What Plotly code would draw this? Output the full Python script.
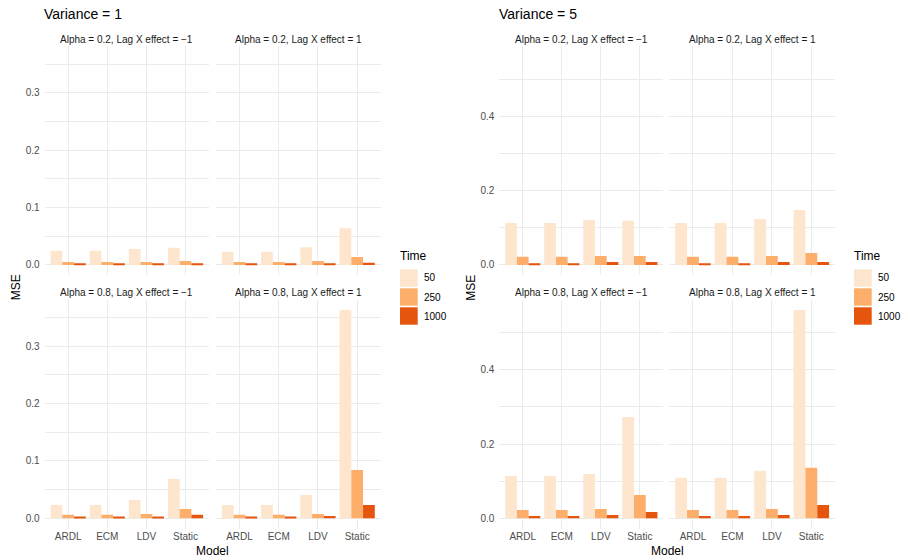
import plotly.graph_objects as go

# Categories and groups
models = ["ARDL", "ECM", "LDV", "Static"]
times = ["50", "250", "1000"]
time_colors = ["#FEE6CE", "#FDAE6B", "#E6550D"]

facet_titles = [
    "Alpha = 0.2, Lag X effect = \u22121",
    "Alpha = 0.2, Lag X effect = 1",
    "Alpha = 0.8, Lag X effect = \u22121",
    "Alpha = 0.8, Lag X effect = 1",
]

# MSE by model; one row per sample size (50, 250, 1000) -- Variance = 1
var1_a02_neg = [[0.025, 0.025, 0.028, 0.030], [0.005, 0.005, 0.005, 0.007], [0.002, 0.002, 0.002, 0.002]]
var1_a02_pos = [[0.023, 0.023, 0.031, 0.064], [0.005, 0.005, 0.007, 0.014], [0.002, 0.002, 0.002, 0.004]]
var1_a08_neg = [[0.023, 0.023, 0.032, 0.0685], [0.006, 0.006, 0.0075, 0.016], [0.002, 0.002, 0.002, 0.006]]
var1_a08_pos = [[0.023, 0.023, 0.0405, 0.363], [0.006, 0.006, 0.0075, 0.084], [0.002, 0.002, 0.004, 0.023]]

# Variance = 5
var5_a02_neg = [[0.113, 0.113, 0.121, 0.119], [0.022, 0.022, 0.024, 0.024], [0.005, 0.005, 0.008, 0.008]]
var5_a02_pos = [[0.113, 0.113, 0.124, 0.148], [0.022, 0.022, 0.024, 0.032], [0.005, 0.005, 0.008, 0.008]]
var5_a08_neg = [[0.114, 0.114, 0.1195, 0.273], [0.0225, 0.0225, 0.025, 0.063], [0.006, 0.006, 0.009, 0.017]]
var5_a08_pos = [[0.109, 0.109, 0.128, 0.5615], [0.022, 0.022, 0.025, 0.136], [0.006, 0.006, 0.009, 0.036]]

variance_titles = ["Variance = 1", "Variance = 5"]
variance_panels = [
    [var1_a02_neg, var1_a02_pos, var1_a08_neg, var1_a08_pos],
    [var5_a02_neg, var5_a02_pos, var5_a08_neg, var5_a08_pos],
]
y_major = [0.1, 0.2]

# Page geometry (pixels)
W, H = 902, 558
col_px = [[(44.7, 209.0), (216.0, 380.7)], [(499.3, 663.3), (669.3, 835.0)]]
row_px = [(46.2, 275.4), (299.5, 528.7)]
legend_x = [400.0, 854.0]
PAD = 2.5  # inner padding plotly adds around annotation text

FONT = "Liberation Sans, Arial, sans-serif"
GRID = "#EBEBEB"


def px(x):
    return x / W


def py(y):
    return 1 - y / H


fig = go.Figure()
layout = {}
annotations = []
shapes = []

ax = 0
for f, panels in enumerate(variance_panels):
    ymax = max(max(max(s) for s in p) for p in panels)
    yrange = [-0.05 * ymax, 1.05 * ymax]
    for k, panel in enumerate(panels):
        r, c = divmod(k, 2)
        ax += 1
        xa = "x" if ax == 1 else f"x{ax}"
        ya = "y" if ax == 1 else f"y{ax}"
        x0, x1 = col_px[f][c]
        y0, y1 = row_px[r]
        for t, vals in enumerate(panel):
            fig.add_trace(go.Bar(
                x=models, y=vals, name=times[t], xaxis=xa, yaxis=ya,
                marker=dict(color=time_colors[t], line=dict(width=0)),
                offsetgroup=times[t], showlegend=False,
            ))
        layout["xaxis" if ax == 1 else f"xaxis{ax}"] = dict(
            domain=[px(x0), px(x1)], anchor=ya, type="category",
            categoryorder="array", categoryarray=models,
            range=[-0.6, 3.6], showgrid=True, gridcolor=GRID, gridwidth=1.1,
            showline=False, zeroline=False, ticks="",
            showticklabels=(r == 1),
            tickfont=dict(family=FONT, size=10, color="#4D4D4D"),
            fixedrange=True,
        )
        layout["yaxis" if ax == 1 else f"yaxis{ax}"] = dict(
            domain=[py(y1), py(y0)], anchor=xa, range=yrange,
            tick0=0, dtick=y_major[f], tickformat=".1f",
            showgrid=True, gridcolor=GRID, gridwidth=1.1,
            minor=dict(tick0=0, dtick=y_major[f] / 2, showgrid=True,
                       gridcolor=GRID, gridwidth=0.8),
            showline=False, zeroline=False, ticks="",
            showticklabels=(c == 0), ticklabelstandoff=4,
            tickfont=dict(family=FONT, size=10, color="#4D4D4D"),
            fixedrange=True,
        )
        # facet strip label
        annotations.append(dict(
            text=facet_titles[k], x=px((x0 + x1) / 2), y=py(y0 - 7),
            xref="paper", yref="paper", xanchor="center", yanchor="middle",
            showarrow=False, font=dict(family=FONT, size=10, color="#1A1A1A"),
        ))

    left = col_px[f][0][0]
    right = col_px[f][1][1]
    # block title
    annotations.append(dict(
        text=variance_titles[f], x=px(left - PAD), y=py(14), xref="paper", yref="paper",
        xanchor="left", yanchor="middle", showarrow=False,
        font=dict(family=FONT, size=14, color="#000000"),
    ))
    # axis titles
    annotations.append(dict(
        text="MSE", x=px(left - 28), y=py((row_px[0][0] + row_px[1][1]) / 2),
        xref="paper", yref="paper", xanchor="center", yanchor="middle",
        textangle=-90, showarrow=False,
        font=dict(family=FONT, size=12, color="#000000"),
    ))
    annotations.append(dict(
        text="Model", x=px((left + right) / 2), y=py(551),
        xref="paper", yref="paper", xanchor="center", yanchor="middle",
        showarrow=False, font=dict(family=FONT, size=12, color="#000000"),
    ))
    # legend
    lx = legend_x[f]
    annotations.append(dict(
        text="Time", x=px(lx - PAD), y=py(256), xref="paper", yref="paper",
        xanchor="left", yanchor="middle", showarrow=False,
        font=dict(family=FONT, size=12, color="#000000"),
    ))
    for t, name in enumerate(times):
        top = 269.3 + t * 19.0
        shapes.append(dict(
            type="rect", xref="paper", yref="paper",
            x0=px(lx), x1=px(lx + 17.7), y0=py(top + 17.4), y1=py(top),
            fillcolor=time_colors[t], line=dict(width=0),
        ))
        annotations.append(dict(
            text=name, x=px(lx + 24.5 - PAD), y=py(top + 8.7), xref="paper", yref="paper",
            xanchor="left", yanchor="middle", showarrow=False,
            font=dict(family=FONT, size=10, color="#000000"),
        ))

fig.update_layout(
    width=W, height=H, margin=dict(l=0, r=0, t=0, b=0),
    paper_bgcolor="white", plot_bgcolor="white",
    barmode="group", bargap=0.1, bargroupgap=0,
    showlegend=False, annotations=annotations, shapes=shapes,
    font=dict(family=FONT),
    **layout,
)

fig.write_html("out.html")
